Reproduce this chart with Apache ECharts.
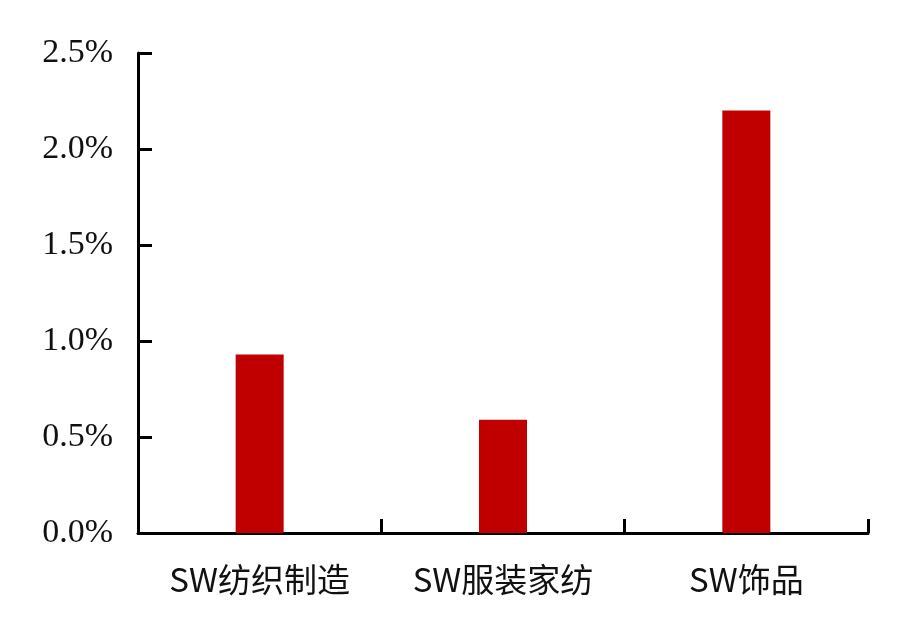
<!DOCTYPE html>
<html>
<head>
<meta charset="utf-8">
<script src="https://cdn.jsdelivr.net/npm/echarts@6/dist/echarts.min.js"></script>
<style>
  html, body { margin: 0; padding: 0; background: #fff; }
  #chart { width: 919px; height: 639px; }
</style>
</head>
<body>
<div id="chart"></div>
<script>
const categories = ['SW纺织制造', 'SW服装家纺', 'SW饰品'];
const values = [0.93, 0.59, 2.2]; // %
const yTicks = { min: 0, max: 2.5, interval: 0.5 };

const BAR_RED = '#c00000';
const AXIS = '#000';

const chart = echarts.init(document.getElementById('chart'));
chart.setOption({
  animation: false,
  grid: { left: 138, right: 51, top: 53, bottom: 106 },
  xAxis: {
    type: 'category',
    data: categories,
    axisLine: { lineStyle: { color: AXIS, width: 3 } },
    axisTick: { show: true, inside: true, length: 14, lineStyle: { color: AXIS, width: 3 } },
    axisLabel: {
      margin: 30, color: '#111', fontSize: 33,
      fontFamily: '"Noto Sans CJK SC", serif'
    },
  },
  yAxis: {
    type: 'value',
    min: yTicks.min, max: yTicks.max, interval: yTicks.interval,
    axisLine: { show: true, lineStyle: { color: AXIS, width: 3 } },
    axisTick: { show: true, inside: true, length: 14, lineStyle: { color: AXIS, width: 3 } },
    splitLine: { show: false },
    axisLabel: {
      margin: 25, color: '#111', fontSize: 34,
      fontFamily: '"Liberation Serif", "DejaVu Serif", serif',
      formatter: v => v.toFixed(1) + '%'
    },
  },
  series: [{
    type: 'bar',
    data: values,
    barWidth: 48,
    itemStyle: { color: BAR_RED },
  }],
});
</script>
</body>
</html>
